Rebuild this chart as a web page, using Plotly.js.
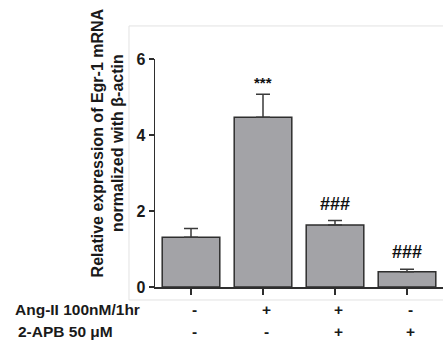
<!DOCTYPE html>
<html>
<head>
<meta charset="utf-8">
<script src="https://cdn.plot.ly/plotly-3.0.1.min.js"></script>
<style>html,body{margin:0;padding:0;background:#fff;}#chart{width:443px;height:344px;}</style>
</head>
<body>
<div id="chart"></div>
<script>
const groups = ['G1', 'G2', 'G3', 'G4'];
const angII = ['-', '+', '+', '-'];
const apb = ['-', '-', '+', '+'];
const values = [1.31, 4.47, 1.63, 0.40];
const errors = [0.23, 0.60, 0.12, 0.07];
const marks = ['', '***', '###', '###'];
const rowLabels = ['Ang-II 100nM/1hr', '2-APB 50 \u03bcM'];
const yTicks = [0, 2, 4, 6];

const FONT = 'Liberation Sans, Arial, sans-serif';

const trace = {
  type: 'bar',
  x: groups,
  y: values,
  width: 0.8,
  marker: {color: '#a3a3a7', line: {color: '#2e2e2e', width: 1.5}},
  error_y: {type: 'data', array: errors, arrayminus: groups.map(() => 0), symmetric: false,
            color: '#3a3a3a', thickness: 1.5, width: 7},
  hoverinfo: 'skip'
};

const annotations = [];
// Y-axis title
annotations.push({
  xref: 'paper', yref: 'paper', x: -0.165, y: 0.632,
  text: 'Relative expression of Egr-1 mRNA<br>normalized with \u03b2-actin',
  textangle: -90, showarrow: false, xanchor: 'center', yanchor: 'middle',
  font: {family: FONT, size: 16, color: '#1a1a1a', weight: 'bold'}
});
// significance marks
marks.forEach((m, i) => {
  if (!m) return;
  const isStar = m.indexOf('*') >= 0;
  annotations.push({
    xref: 'x', yref: 'y', x: groups[i], y: values[i] + errors[i],
    text: m, showarrow: false, xanchor: 'center', yanchor: 'bottom',
    yshift: isStar ? 1 : 5,
    font: {family: FONT, size: isStar ? 15 : 18, color: '#111111', weight: 'bold'}
  });
});
// treatment rows
const rowY = [-0.0965, -0.197];
const rowX = [-0.493, -0.483];
[angII, apb].forEach((row, r) => {
  annotations.push({
    xref: 'paper', yref: 'paper', x: rowX[r], y: rowY[r],
    text: rowLabels[r], showarrow: false, xanchor: 'left', yanchor: 'middle',
    font: {family: FONT, size: 15.5, color: '#1a1a1a', weight: 'bold'}
  });
  row.forEach((s, i) => {
    annotations.push({
      xref: 'x', yref: 'paper', x: groups[i], y: rowY[r],
      text: s, showarrow: false, xanchor: 'center', yanchor: 'middle', xshift: 3,
      font: {family: FONT, size: 15.5, color: '#1a1a1a', weight: 'bold'}
    });
  });
});

const layout = {
  width: 443, height: 344,
  margin: {l: 155, r: 0, t: 59, b: 57},
  paper_bgcolor: '#ffffff', plot_bgcolor: '#ffffff',
  showlegend: false,
  bargap: 0.2,
  xaxis: {
    type: 'category', range: [-0.5, 3.5], showgrid: false, zeroline: false,
    showline: true, linecolor: '#2e2e2e', linewidth: 1.5,
    ticks: 'outside', ticklen: 6, tickwidth: 1.5, tickcolor: '#2e2e2e',
    showticklabels: false, fixedrange: true
  },
  yaxis: {
    range: [0, 6], tickvals: yTicks, ticktext: yTicks.map(String),
    showgrid: false, zeroline: false,
    showline: true, linecolor: '#2e2e2e', linewidth: 1.5,
    ticks: 'outside', ticklen: 5, tickwidth: 1.5, tickcolor: '#2e2e2e',
    tickfont: {family: FONT, size: 16, color: '#1a1a1a', weight: 'bold'},
    fixedrange: true
  },
  shapes: [{
    type: 'rect', xref: 'paper', yref: 'paper', x0: -0.0903, x1: 1.02, y0: -0.057, y1: 1.145,
    line: {color: '#e2e2e2', width: 1}, fillcolor: 'rgba(0,0,0,0)', layer: 'below'
  }],
  annotations: annotations
};

Plotly.newPlot('chart', [trace], layout, {staticPlot: true, displayModeBar: false});
</script>
</body>
</html>
